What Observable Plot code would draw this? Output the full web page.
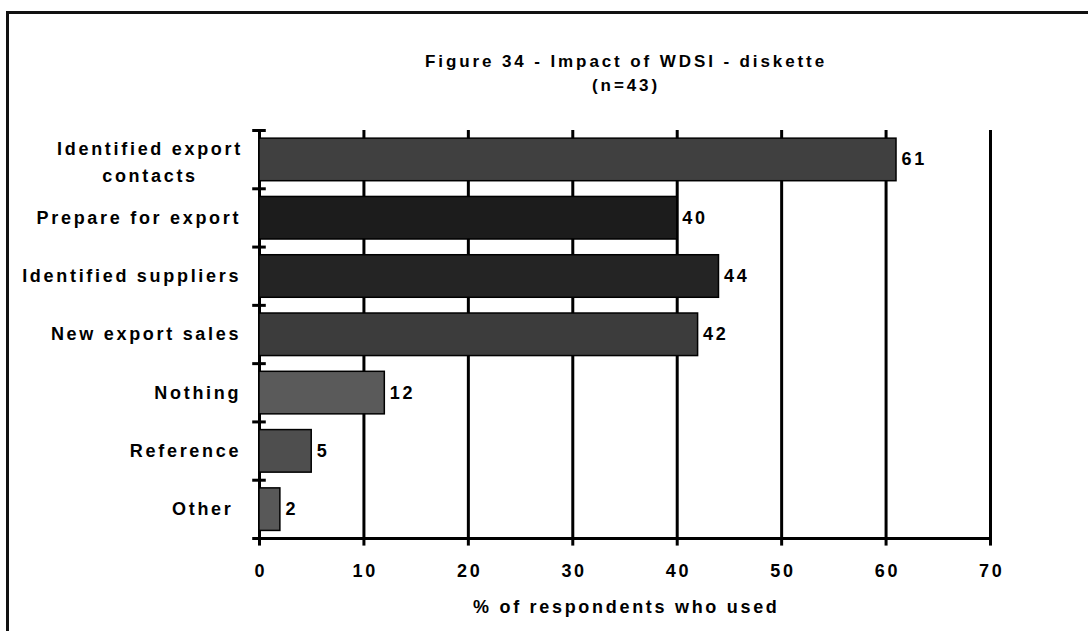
<!DOCTYPE html>
<html><head><meta charset="utf-8">
<script src="https://cdn.jsdelivr.net/npm/d3@7"></script>
<script src="https://cdn.jsdelivr.net/npm/@observablehq/plot@0.6"></script>
<style>
body{margin:0;width:1088px;height:631px;overflow:hidden;background:#fff;position:relative;font-family:"Liberation Sans",Arial,sans-serif}
#frame{position:absolute;left:6px;top:11px;width:1100px;height:640px;border:3px solid #111;box-sizing:border-box}
#chart{position:absolute;left:0;top:0}
</style></head><body><div id="frame"></div><div id="chart"></div>
<script>
const categories = ["Identified export\ncontacts","Prepare for export","Identified suppliers","New export sales","Nothing","Reference","Other\u00a0"];
const values = [61, 40, 44, 42, 12, 5, 2];
const barFills = ["#404040","#1c1c1c","#242424","#3c3c3c","#5a5a5a","#4e4e4e","#585858"];
const xTicks = [0, 10, 20, 30, 40, 50, 60, 70];
const title = "Figure 34 - Impact of WDSI - diskette";
const subtitle = "(n=43)";
const xLabel = "% of respondents who used";

const data = categories.map((c, i) => ({category: c, value: values[i], i, fill: barFills[i]}));
const single = data.filter(d => !d.category.includes("\n"));
const multi = data.filter(d => d.category.includes("\n"));
const n = categories.length;
const font = {fontSize: 18, fontWeight: "bold", fill: "#000"};

const chart = Plot.plot({
  width: 1088, height: 631,
  marginLeft: 259, marginRight: 98, marginTop: 130, marginBottom: 93,
  x: {domain: [0, 70], axis: null},
  y: {domain: [0, n], reverse: true, axis: null},
  style: {fontFamily: "'Liberation Sans', Arial, sans-serif", background: "transparent"},
  marks: [
    Plot.ruleX(xTicks, {x: d => d, y1: 0, y2: n, stroke: "#000", strokeWidth: 3}),
    Plot.rect(data, {x1: 0, x2: "value", y1: d => d.i + 0.14, y2: d => d.i + 0.87, fill: "fill", stroke: "#000", strokeWidth: 1.5}),
    Plot.ruleY(d3.range(n + 1), {y: d => d, x1: -0.65, x2: 0.65, stroke: "#000", strokeWidth: 3}),
    Plot.ruleY([n], {x1: 0, x2: 70, stroke: "#000", strokeWidth: 3}),
    Plot.ruleX(xTicks, {x: d => d, y1: n, y2: n + 0.13, stroke: "#000", strokeWidth: 3}),
    // text marks (index order matters for letter-spacing below)
    Plot.text(xTicks, {x: d => d, y: n, dy: 33, dx: 1.3, text: d => String(d), lineAnchor: "middle", ...font}),
    Plot.text([xLabel], {frameAnchor: "bottom", dy: 69, dx: 1.3, text: d => d, lineAnchor: "middle", ...font}),
    Plot.text(single, {x: 0, y: d => d.i + 0.5, dx: -18.3, text: "category", textAnchor: "end", lineAnchor: "middle", ...font}),
    Plot.text(multi, {x: 0, y: d => d.i + 0.5, dx: -109.5, text: "category", textAnchor: "middle", lineAnchor: "middle", lineHeight: 1.5, ...font}),
    Plot.text(data, {x: "value", y: d => d.i + 0.5, dx: 5, text: d => String(d.value), textAnchor: "start", lineAnchor: "middle", ...font}),
    Plot.text([title], {frameAnchor: "top", dx: 1, dy: -69, text: d => d, lineAnchor: "middle", fontSize: 17, fontWeight: "bold", fill: "#000"}),
    Plot.text([subtitle], {frameAnchor: "top", dx: 1, dy: -44.5, text: d => d, lineAnchor: "middle", fontSize: 17, fontWeight: "bold", fill: "#000"})
  ]
});
document.getElementById("chart").appendChild(chart);
const groups = chart.querySelectorAll('g[aria-label="text"]');
const spacing = ["2.7px", "2.7px", "2.7px", "2.7px", "2.7px", "2.9px", "2.9px"];
groups.forEach((g, k) => g.setAttribute("letter-spacing", spacing[k] || "0px"));
</script></body></html>
